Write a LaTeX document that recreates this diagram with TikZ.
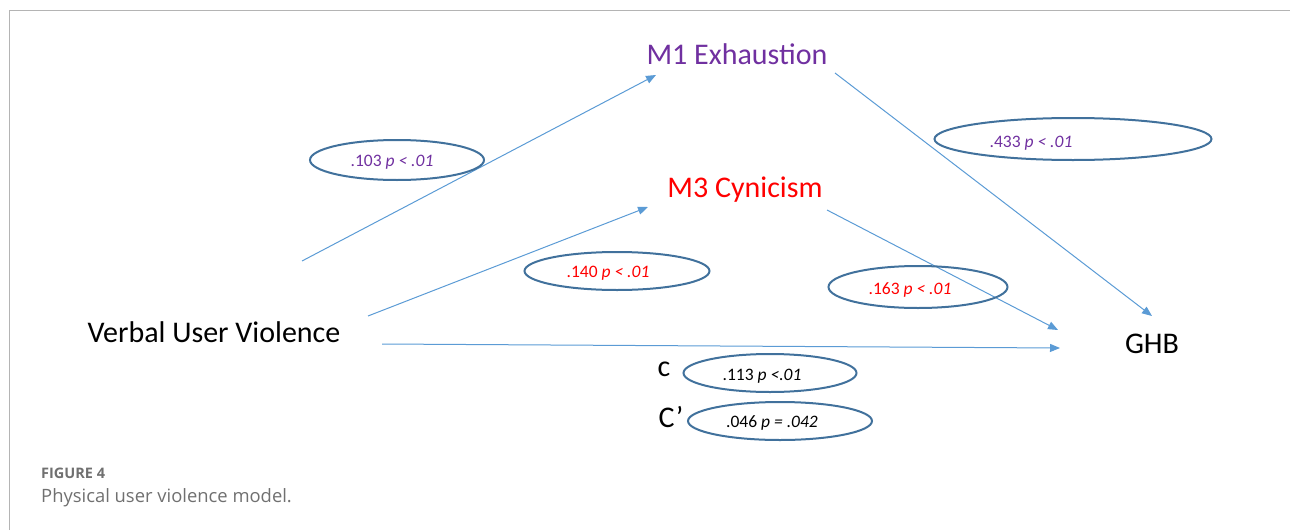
\documentclass[tikz,border=0pt]{standalone}
\usepackage{fontspec}
\setmainfont{Carlito}
\newfontfamily\capfont{Open Sans}
\usetikzlibrary{positioning,shapes.geometric,arrows.meta}
\definecolor{pathblue}{HTML}{5B9BD5}
\definecolor{ovalblue}{HTML}{41719C}
\definecolor{exhpurple}{HTML}{7030A0}
\definecolor{cynred}{HTML}{FF0000}
\definecolor{framegray}{HTML}{B4B4B4}
\definecolor{capgray}{HTML}{707070}

\begin{document}
\begin{tikzpicture}[x=1pt,y=-1pt,
		var/.style={font=\fontsize{30}{34}\selectfont,inner sep=0pt},
		patharrow/.style={pathblue,line width=1pt,-{Triangle[length=10pt,width=8pt]}},
		oval/.style={ellipse,draw=ovalblue,line width=2pt,inner sep=0pt},
		coef/.style={font=\fontsize{17.5}{20}\selectfont,inner sep=0pt}]
		
		\useasboundingbox (0,0) rectangle (1290,530);
		\draw[framegray] (9,530) -- (9,10) -- (1290,10);
		
		% variables
		\node[var,text=exhpurple] (exh) at (737,54) {M1 Exhaustion};
		\node[var,text=cynred] (cyn) at (745,190) {M3 Cynicism};
		\node[var] (vuv) at (214,332) {Verbal User Violence};
		\node[var] (ghb) at (1152,344) {GHB};
		
		% arrow ends
		\coordinate (vuvA) at (302,261);
		\coordinate (vuvB) at (368,316);
		\coordinate (vuvC) at (382,344);
		\coordinate (exhIn) at (656,75);
		\coordinate (exhOut) at (835,73);
		\coordinate (cynIn) at (648,207);
		\coordinate (cynOut) at (827,210);
		\coordinate (ghbA) at (1152,316);
		\coordinate (ghbB) at (1058,330);
		\coordinate (ghbC) at (1060,348);
		
		\draw[patharrow] (vuvA) -- (exhIn);
		\draw[patharrow] (vuvB) -- (cynIn);
		\draw[patharrow] (vuvC) -- (ghbC);
		\draw[patharrow] (exhOut) -- (ghbA);
		\draw[patharrow] (cynOut) -- (ghbB);
		
		% coefficients
		\node[oval,minimum width=174,minimum height=40] (ovA) at (397,160) {};
		\node[coef,text=exhpurple] (coefA) at (392,162) {.103 \textit{p < .01}};
		\node[oval,minimum width=277,minimum height=42] (ovB) at (1073,139) {};
		\node[coef,text=exhpurple] (coefB) at (1031,143) {.433 \textit{p < .01}};
		\node[oval,minimum width=185,minimum height=38] (ovC) at (617,271) {};
		\node[coef,text=cynred] (coefC) at (608,273) {.140 \textit{p < .01}};
		\node[oval,minimum width=179,minimum height=42] (ovD) at (918,287) {};
		\node[coef,text=cynred] (coefD) at (910,290) {.163 \textit{p < .01}};
		\node[oval,minimum width=173,minimum height=38] (ovE) at (770,373) {};
		\node[coef] (coefE) at (762,376) {.113 \textit{p <.01}};
		\node[oval,minimum width=184,minimum height=38] (ovF) at (780,421) {};
		\node[coef] (coefF) at (772,423) {.046 \textit{p = .042}};
		\node[var] (total) at (664,369) {c};
		\node[var] (direct) at (671,417) {C’};
		
		% caption
		\node[anchor=west,inner sep=0pt,text=capgray,font=\capfont\bfseries\fontsize{14.5}{17}\selectfont] (fig) at (41,473) {FIGURE 4};
		\node[anchor=west,inner sep=0pt,text=capgray,font=\capfont\fontsize{18.4}{22}\selectfont] (cap) at (41,498) {Physical user violence model.};
\end{tikzpicture}
\end{document}
